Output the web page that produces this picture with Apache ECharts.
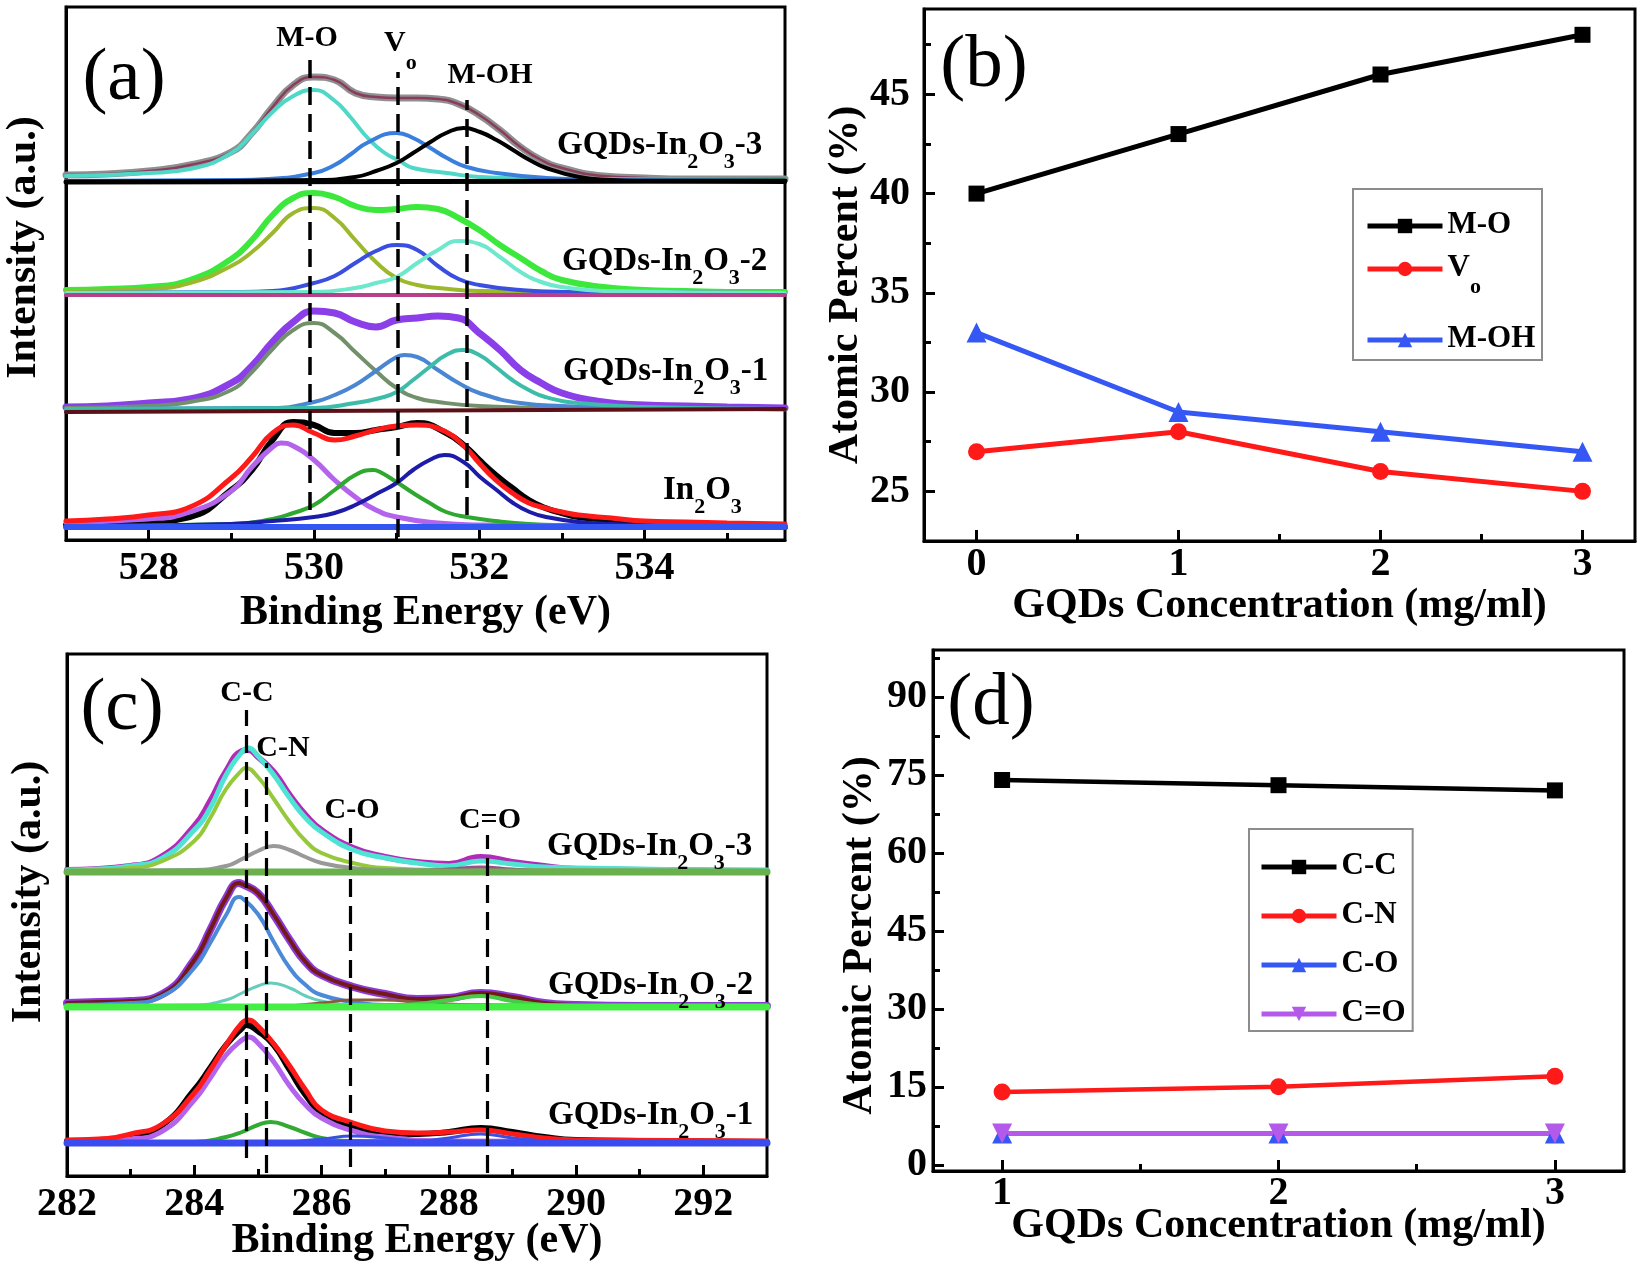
<!DOCTYPE html>
<html><head><meta charset="utf-8">
<script src="https://cdn.jsdelivr.net/npm/echarts@6/dist/echarts.min.js"></script>
<style>html,body{margin:0;padding:0;background:#fff}#c{width:1641px;height:1264px}</style>
</head><body><div id="c"></div>
<script>
// ---------- Panel (a): O 1s spectra, intensity above each background (a.u.) ----------
const aTicks = [528, 530, 532, 534];
const aMinor = [529, 531, 533, 535];
const aOffsets = [358, 245, 129, 13]; // stack offsets: GQDs-In2O3-3, -2, -1, In2O3
const a3Raw = [[527,7],[527.5,8],[528,11],[528.5,17],[529,30],[529.25,49],[529.5,75],[529.75,97],[530,105],[530.25,102],[530.5,89],[530.75,85],[531,84],[531.25,84],[531.5,83],[531.75,78],[532,67],[532.25,52],[532.5,35],[532.75,22],[533,14],[533.5,6],[534,4],[534.5,3],[535,3],[535.7,3]];
const a3MO = [[527,6],[528,9],[528.5,13],[529,29],[529.25,48],[529.5,70],[529.75,86],[530,92],[530.24,82],[530.44,65],[530.64,45],[530.84,30],[531.04,21],[531.2,14],[531.61,9],[532.01,5],[533,3],[535.7,2]];
const a3Vo = [[527,1],[529,2],[529.45,3],[530,9],[530.25,17],[530.45,28],[530.64,39],[531,49],[531.2,44],[531.41,34],[531.61,24],[531.85,15],[532.21,9],[532.81,4],[533.5,2],[535.7,1]];
const a3MOH = [[527,0],[530,2],[530.5,5],[530.75,11],[531,19],[531.2,29],[531.41,40],[531.6,49],[531.81,54],[532.01,50],[532.21,42],[532.41,32],[532.61,22],[532.81,14],[533.21,5],[533.6,2],[534,1],[535.7,0]];
const a3Bg = [[527,0],[535.7,1]];

const a2Raw = [[527,5],[527.5,6],[528,8],[528.5,15],[529,36],[529.25,55],[529.5,80],[529.75,97],[530,102],[530.25,98],[530.5,89],[530.75,85],[531,86],[531.25,88],[531.5,86],[531.75,77],[532,65],[532.25,50],[532.5,37],[532.75,24],[533,15],[533.5,8],[534,5],[534.5,4],[535,3],[535.7,3]];
const a2MO = [[527,4],[528,6],[528.5,12],[529,29],[529.25,43],[529.5,62],[529.75,82],[530,87],[530.25,77],[530.5,55],[530.75,33],[531,17],[531.25,10],[531.5,7],[532,4],[535.7,2]];
const a2Vo = [[527,2],[529,3],[529.5,4],[530,12],[530.25,19],[530.5,32],[530.75,44],[531,50],[531.25,45],[531.5,29],[531.75,16],[532,10],[532.5,5],[533,3],[535.7,2]];
const a2MOH = [[527,2],[530,3],[530.5,7],[530.75,12],[531,18],[531.25,32],[531.5,45],[531.75,54],[532,51],[532.25,38],[532.5,23],[532.75,13],[533,8],[533.5,4],[535.7,2]];
const a2Bg = [[527,0],[535.7,0]];

const a1Raw = [[527,4],[527.5,5],[528,8],[528.5,12],[529,28],[529.25,45],[529.5,69],[529.75,89],[530,100],[530.25,98],[530.5,89],[530.75,84],[531,91],[531.25,93],[531.5,95],[531.75,93],[532,78],[532.25,61],[532.5,41],[532.75,28],[533,18],[533.5,9],[534,6],[534.5,5],[535,4],[535.7,3]];
const a1MO = [[527,3],[528,5],[528.5,9],[529,21],[529.25,39],[529.5,62],[529.75,81],[530,88],[530.25,78],[530.5,59],[530.75,40],[531,23],[531.25,13],[531.5,9],[532,5],[533,3],[535.7,2]];
const a1Vo = [[527,2],[529.5,3],[530,9],[530.25,16],[530.5,26],[530.75,40],[531,54],[531.1,56],[531.25,54],[531.5,41],[531.75,28],[532,18],[532.5,8],[533,5],[534,3],[535.7,2]];
const a1MOH = [[527,2],[530,3],[530.5,8],[530.8,13],[531,19],[531.2,31],[531.4,44],[531.6,56],[531.8,61],[532,56],[532.2,44],[532.4,31],[532.6,21],[532.8,14],[533.2,8],[534,4],[535.7,2]];
const a1Bg = [[527,-1],[535.7,2]];

const a0Raw = [[527,2],[527.5,3],[528,5],[528.5,10],[529,37],[529.25,57],[529.5,87],[529.75,105],[530,102],[530.25,94],[530.5,94],[530.75,97],[531,100],[531.25,104],[531.6,94],[531.84,80],[532,67],[532.2,52],[532.4,39],[532.6,27],[532.8,19],[533,14],[533.2,10],[533.6,7],[534,4],[534.5,2],[535,1],[535.7,0]];
const a0Env = [[527,6],[527.5,8],[528,12],[528.5,20],[529,49],[529.25,70],[529.5,94],[529.75,102],[530,94],[530.25,87],[530.5,91],[530.75,97],[531,101],[531.25,102],[531.6,95],[531.84,79],[532,64],[532.2,47],[532.4,34],[532.6,24],[532.8,19],[533,15],[533.2,12],[533.6,9],[534,6],[534.5,5],[535,4],[535.7,3]];
const a0MO = [[527,5],[528,8],[528.5,15],[529,36],[529.25,60],[529.5,80],[529.6,84],[529.75,81],[530,67],[530.25,47],[530.5,30],[530.75,17],[531,10],[531.5,4],[532,2],[535.7,0]];
const a0Vo = [[527,1],[529,3],[529.5,8],[529.75,14],[530,22],[530.25,37],[530.5,52],[530.72,57],[530.8,55],[531,45],[531.2,34],[531.4,24],[531.6,15],[531.85,10],[532.2,6],[532.6,3],[533,2],[535.7,0]];
const a0MOH = [[527,0],[529,3],[529.5,6],[530,10],[530.25,14],[530.5,22],[530.8,35],[531,44],[531.2,57],[531.4,67],[531.58,72],[531.81,65],[532.01,50],[532.21,37],[532.41,24],[532.61,15],[532.81,10],[533.21,5],[533.6,3],[534,2],[535.7,0]];
const a0Bg = [[527,0],[535.7,0]];

const aPeakE = [529.95, 531.02, 531.85];      // M-O, Vo, M-OH
const aPeakTop = [485, 468, 440];
const aPeakBottom = [30, 3, 25];

// ---------- Panel (b) ----------
const bConc = [0, 1, 2, 3];
const bMO = [40, 43, 46, 48];
const bVo = [27, 28, 26, 25];
const bMOH = [33, 29, 28, 27];
const bYTicks = [25, 30, 35, 40, 45];
const bYMinor = [27.5, 32.5, 37.5, 42.5, 47.5];
const bXMinor = [0.5, 1.5, 2.5];

// ---------- Panel (c): C 1s spectra ----------
const cTicks = [282, 284, 286, 288, 290, 292];
const cMinor = [283, 285, 287, 289, 291];
const cOffsets = [304, 169, 33];
const c3Raw = [[282,2],[283,6],[283.5,16],[284,46],[284.25,71],[284.5,101],[284.75,121],[284.85,122],[285,115],[285.25,100],[285.5,77],[285.75,57],[286,42],[286.5,24],[287,15],[287.5,10],[288,8],[288.5,15],[289,10],[289.5,6],[290,3],[291,2],[293,1]];
const c3Env = [[282,2],[282.5,3],[283,6],[283.5,14],[284,42],[284.25,64],[284.5,97],[284.75,120],[284.85,124],[285,116],[285.25,97],[285.5,74],[285.75,54],[286,40],[286.5,22],[287,14],[287.5,9],[288,6],[288.5,11],[289,8],[289.5,5],[290,4],[291,3],[292,2],[293,2]];
const c3CC = [[282,1],[283,4],[283.5,11],[284,31],[284.25,54],[284.5,83],[284.75,102],[284.8,104],[285,95],[285.25,73],[285.5,50],[285.75,31],[286,19],[286.5,9],[287,4],[288,2],[293,1]];
const c3CN = [[282,1],[284,2],[284.5,6],[284.75,13],[285,21],[285.25,26],[285.5,22],[285.75,15],[286,9],[286.5,4],[287,2],[293,1]];
const c3CdO = [[287,0],[287.5,1],[288,3],[288.5,5],[289,3],[289.5,1],[290,0]];
const c3Bg = [[282,0],[293,0]];

const c2Raw = [[282,4],[282.5,5],[283,6],[283.5,13],[284,47],[284.25,77],[284.5,109],[284.7,124],[284.75,123],[285,114],[285.25,92],[285.5,67],[285.75,45],[286,32],[286.5,20],[287,13],[287.5,8],[288,9],[288.5,14],[289,10],[289.5,4],[290,2],[291,1],[293,1]];
const c2CC = [[282,2],[283,4],[283.5,11],[284,39],[284.25,64],[284.5,92],[284.7,110],[284.75,109],[285,93],[285.25,65],[285.5,39],[285.75,22],[286,12],[286.5,5],[287,2],[293,1]];
const c2CN = [[282,1],[284,2],[284.5,7],[284.75,14],[285,21],[285.2,24],[285.5,19],[285.75,11],[286,6],[286.5,2],[293,1]];
const c2CO = [[285.5,1],[286,4],[286.5,7],[287,7],[287.5,5],[288,3],[288.5,2],[289,1],[289.5,0]];
const c2CdO = [[287,1],[287.5,3],[288,7],[288.5,11],[289,6],[289.5,2],[290,1],[293,1]];
const c2Bg = [[282,0],[293,0]];

const c1Raw = [[282,2],[282.5,3],[283,6],[283.5,18],[284,53],[284.25,75],[284.5,98],[284.75,115],[284.82,118],[285,112],[285.25,98],[285.5,73],[285.75,48],[286,31],[286.5,17],[287,10],[287.5,9],[288,11],[288.5,15],[289,11],[289.5,6],[290,3],[291,2],[293,1]];
const c1Env = [[282,3],[282.5,4],[283,9],[283.5,19],[284,50],[284.25,73],[284.5,98],[284.75,120],[284.85,123],[285,117],[285.25,99],[285.5,77],[285.75,53],[286,33],[286.5,20],[287,12],[287.5,10],[288,11],[288.5,13],[289,9],[289.5,5],[290,3],[293,2]];
const c1CC = [[282,1],[283,4],[283.5,12],[284,43],[284.25,65],[284.5,88],[284.75,103],[284.85,106],[285,100],[285.25,81],[285.5,57],[285.75,38],[286,25],[286.5,12],[287,6],[288,2],[293,1]];
const c1CN = [[282,0],[284,1],[284.5,6],[284.75,11],[285,18],[285.2,21],[285.5,16],[285.75,10],[286,5],[286.5,2],[293,0]];
const c1CO = [[285.5,1],[286,4],[286.5,7],[287,5],[287.5,2],[288,1]];
const c1CdO = [[287.5,1],[288,5],[288.5,9],[289,5],[289.5,2],[290,0]];
const c1Bg = [[282,0],[293,0]];

const cPeakE = [284.81, 285.13, 286.45, 288.6];   // C-C, C-N, C-O, C=O
const cPeakTop = [466, 413, 348, 341];
const cPeakBottom = [18, 3, 9, 3];

// ---------- Panel (d) ----------
const dConc = [1, 2, 3];
const dCC = [74, 73, 72];
const dCN = [14, 15, 17];
const dCO = [6, 6, 6];
const dCdO = [6, 6, 6];
const dYTicks = [0, 15, 30, 45, 60, 75, 90];
const dYMinor = [7.5, 22.5, 37.5, 52.5, 67.5, 82.5, 97.5];
const dXMinor = [1.5, 2.5];

// ---------- styling / building ----------
const F = '"Liberation Serif","Times New Roman",serif';
const TB = {fontFamily: F, fontWeight: 'bold', color: '#000'};

function grid(left, top, width, height) {
  return {left, top, width, height, show: true, borderColor: '#000', borderWidth: 3,
    backgroundColor: 'transparent', containLabel: false, outerBoundsMode: 'none'};
}
function mainAxis(kind, gi, min, max, ticks, name, nameGap, margin, namePad) {
  return {type: 'value', gridIndex: gi, min, max, position: kind === 'x' ? 'bottom' : 'left', offset: 0,
    name: name || '', nameLocation: 'middle', nameGap: nameGap || 0, nameMoveOverlap: false,
    nameTextStyle: Object.assign({}, TB, {fontSize: 42, padding: namePad || 0}),
    axisLine: {show: true, onZero: false, lineStyle: {color: '#000', width: 3}},
    axisTick: ticks ? {show: true, inside: true, length: 11, lineStyle: {color: '#000', width: 3}, customValues: ticks} : {show: false},
    axisLabel: ticks ? Object.assign({show: true, fontSize: 40, margin: margin, customValues: ticks}, TB) : {show: false},
    splitLine: {show: false}, minorTick: {show: false}, silent: true};
}
function minorAxis(kind, gi, min, max, ticks) {
  return {type: 'value', gridIndex: gi, min, max, position: kind === 'x' ? 'bottom' : 'left', offset: 0,
    axisLine: {show: false, onZero: false},
    axisTick: {show: true, inside: true, length: 7, lineStyle: {color: '#000', width: 3}, customValues: ticks},
    axisLabel: {show: false}, splitLine: {show: false}, silent: true};
}

const xAxis = [
  mainAxis('x', 0, 527, 535.7, aTicks, 'Binding Energy (eV)', 52, 9),
  minorAxis('x', 0, 527, 535.7, aMinor),
  mainAxis('x', 1, -0.26, 3.26, bConc, 'GQDs Concentration (mg/ml)', 44, 4),
  minorAxis('x', 1, -0.26, 3.26, bXMinor),
  mainAxis('x', 2, 282, 293, cTicks, 'Binding Energy (eV)', 44, 9),
  minorAxis('x', 2, 282, 293, cMinor),
  mainAxis('x', 3, 0.75, 3.25, dConc, 'GQDs Concentration (mg/ml)', 34, 3),
  minorAxis('x', 3, 0.75, 3.25, dXMinor)
];
const yAxis = [
  mainAxis('y', 0, 0, 533, null, 'Intensity (a.u.)', 21, 0, [0, 0, 0, 52]),
  mainAxis('y', 1, 22.5, 49.3, bYTicks, 'Atomic Percent (%)', 57, 14, [0, 20, 0, 0]),
  minorAxis('y', 1, 22.5, 49.3, bYMinor),
  mainAxis('y', 2, 0, 522, null, 'Intensity (a.u.)', 17, 0, [0, 0, 0, 46]),
  mainAxis('y', 3, -1.2, 99, dYTicks, 'Atomic Percent (%)', 52, 6, [0, 50, 0, 0]),
  minorAxis('y', 3, -1.2, 99, dYMinor)
];

const series = [];
let uid = 0;
function curve(pts, off, color, width, xi, yi) {
  const s = {type: 'line', name: 'spec' + (uid++), xAxisIndex: xi, yAxisIndex: yi,
    data: pts.map(p => [p[0], p[1] + off]), showSymbol: false, symbol: 'none',
    smooth: 0.5, silent: true,
    lineStyle: {color, width, cap: 'round', join: 'round'}, itemStyle: {color}};
  series.push(s);
  return s;
}
// panel (a)
[
  [aOffsets[0], [[a3Raw,'#8f8f8f',7],[a3Raw,'#8b3c5c',2.5],[a3MO,'#4fd8c8',4],[a3Vo,'#3b7fdc',4],[a3MOH,'#000000',4],[a3Bg,'#000000',5]]],
  [aOffsets[1], [[a2Raw,'#3de83d',6],[a2MO,'#9cb82c',4],[a2Vo,'#3a4ee0',4],[a2MOH,'#6ee8cc',4],[a2Bg,'#b8408a',4]]],
  [aOffsets[2], [[a1Raw,'#8a3fe8',7],[a1MO,'#72906a',4],[a1Vo,'#4a86d2',4],[a1MOH,'#3ebcaa',4],[a1Bg,'#5c1018',4]]],
  [aOffsets[3], [[a0Raw,'#000000',6],[a0MO,'#b463ec',5],[a0Vo,'#2ea82e',4],[a0MOH,'#1c1ca8',4],[a0Env,'#ff1a1a',5],[a0Bg,'#3355f0',6]]]
].forEach(([off, list]) => list.forEach(c => curve(c[0], off, c[1], c[2], 0, 0)));
const aLast = series[series.length - 1];
aLast.markLine = {silent: true, symbol: ['none', 'none'], label: {show: false}, animation: false,
  lineStyle: {color: '#000', width: 3.5, type: [18, 9]},
  data: aPeakE.map((e, i) => [{coord: [e, aPeakBottom[i]]}, {coord: [e, aPeakTop[i]]}])};

// panel (c)
[
  [cOffsets[0], [[c3Raw,'#b22ab8',6],[c3Env,'#4fe3d3',5],[c3CC,'#96c83c',4],[c3CN,'#999999',4],[c3CdO,'#9c4f90',3],[c3Bg,'#6ab04c',7]]],
  [cOffsets[1], [[c2Raw,'#8c3ad8',8],[c2Raw,'#741818',4],[c2CC,'#4b8ad8',4],[c2CN,'#66ccbb',3],[c2CO,'#8b5a3c',3],[c2CdO,'#44cc44',4],[c2Bg,'#44ee44',7]]],
  [cOffsets[2], [[c1Raw,'#000000',6],[c1CC,'#b463ec',5],[c1Env,'#ff1a1a',5],[c1CN,'#33aa33',4],[c1CO,'#3a50e0',3],[c1CdO,'#3a50e0',3],[c1Bg,'#3a4cf0',7]]]
].forEach(([off, list]) => list.forEach(c => curve(c[0], off, c[1], c[2], 4, 3)));
const cLast = series[series.length - 1];
cLast.markLine = {silent: true, symbol: ['none', 'none'], label: {show: false}, animation: false,
  lineStyle: {color: '#000', width: 3.2, type: [18, 9]},
  data: cPeakE.map((e, i) => [{coord: [e, cPeakBottom[i]]}, {coord: [e, cPeakTop[i]]}])};

function pts(xs, ys) { return xs.map((x, i) => [x, ys[i]]); }
function sym(name, xs, ys, color, symbol, size, xi, yi, rot, lw) {
  series.push({type: 'line', name, xAxisIndex: xi, yAxisIndex: yi, data: pts(xs, ys),
    symbol, symbolSize: size, symbolRotate: rot || 0, showSymbol: true, silent: true,
    lineStyle: {color, width: lw || 5}, itemStyle: {color}});
}
sym('M-O', bConc, bMO, '#000000', 'rect', 16, 2, 1);
sym('Vo', bConc, bVo, '#ff1a1a', 'circle', 17, 2, 1);
sym('M-OH', bConc, bMOH, '#3558f5', 'triangle', 20, 2, 1);
sym('C-C', dConc, dCC, '#000000', 'rect', 16, 6, 4, 0, 4.5);
sym('C-N', dConc, dCN, '#ff1a1a', 'circle', 17, 6, 4, 0, 4.5);
sym('C-O', dConc, dCO, '#3558f5', 'triangle', 20, 6, 4, 0, 4.5);
sym('C=O', dConc, dCdO, '#b45aeb', 'triangle', 20, 6, 4, 180, 4.5);

const richN = (fs, lh) => ({fontFamily: F, fontWeight: 'bold', fontSize: fs, lineHeight: lh, verticalAlign: 'top', color: '#000'});
const richS = (pad) => ({fontFamily: F, fontWeight: 'bold', fontSize: 22, lineHeight: 22, padding: [pad, 0, 0, 0], verticalAlign: 'top', color: '#000'});
const legRich = {n: richN(31, 34), s: richS(24)};
const legFmt = name => name === 'Vo' ? '{n|V}{s|o}' : '{n|' + name + '}';
function leg(data, left, top, lw, extra) {
  return Object.assign({data, left, top, orient: 'vertical', itemWidth: 75, itemHeight: 18, padding: 0,
    selectedMode: false, formatter: legFmt, lineStyle: {width: lw},
    textStyle: {fontFamily: F, fontWeight: 'bold', fontSize: 31, color: '#000', rich: legRich}}, extra || {});
}
const legend = [
  leg(['M-O'], 1365, 209, 5),
  leg(['Vo'], 1365, 252, 5),
  leg(['M-OH'], 1365, 323, 5),
  leg(['C-C', 'C-N', 'C-O', 'C=O'], 1249, 829, 5, {itemGap: 18, padding: [21, 7, 3, 10], borderColor: '#8c8c8c', borderWidth: 2})
];

function txt(text, x, y, fs, rich, align, weight) {
  return {type: 'text', x, y, z: 100, silent: true,
    style: {text, x: 0, y: 0, fill: '#000', font: (weight || 'bold') + ' ' + fs + 'px ' + F,
      align: align || 'left', textAlign: align || 'left', verticalAlign: 'top', textVerticalAlign: 'top', rich}};
}
const specRich = {n: richN(33, 36), s: richS(22)};
const peakRich = {n: richN(30, 34), s: richS(24)};
const sampleLbl = sfx => '{n|GQDs-In}{s|2}{n|O}{s|3}{n|' + sfx + '}';
const elements = [
  txt('(a)', 124, 85 - 43, 75, null, 'center', 'normal'),
  txt('(b)', 984, 72 - 43, 75, null, 'center', 'normal'),
  txt('(c)', 122, 715 - 43, 75, null, 'center', 'normal'),
  txt('(d)', 991, 710 - 43, 75, null, 'center', 'normal'),
  txt('{n|M-O}', 307, 23, 30, peakRich, 'center'),
  txt('{n|V}{s|o}', 384, 28, 30, peakRich, 'left'),
  txt('{n|M-OH}', 490, 60, 30, peakRich, 'center'),
  txt('{n|C-C}', 247, 678, 30, peakRich, 'center'),
  txt('{n|C-N}', 283, 733, 30, peakRich, 'center'),
  txt('{n|C-O}', 352, 795, 30, peakRich, 'center'),
  txt('{n|C=O}', 490, 805, 30, peakRich, 'center'),
  txt(sampleLbl('-3'), 557, 129, 33, specRich),
  txt(sampleLbl('-2'), 562, 245, 33, specRich),
  txt(sampleLbl('-1'), 563, 355, 33, specRich),
  txt('{n|In}{s|2}{n|O}{s|3}', 663, 474, 33, specRich),
  txt(sampleLbl('-3'), 547, 830, 33, specRich),
  txt(sampleLbl('-2'), 548, 969, 33, specRich),
  txt(sampleLbl('-1'), 548, 1099, 33, specRich),
  {type: 'rect', z: 50, silent: true, shape: {x: 1353, y: 189, width: 189, height: 171},
    style: {fill: 'rgba(0,0,0,0)', stroke: '#8c8c8c', lineWidth: 2}}
];

const chart = echarts.init(document.getElementById('c'), null, {renderer: 'canvas', width: 1641, height: 1264});
chart.setOption({
  animation: false,
  backgroundColor: '#ffffff',
  textStyle: {fontFamily: F},
  grid: [grid(66, 7, 719, 533), grid(924, 9, 711, 532), grid(67, 654, 700, 522), grid(933, 650, 691, 521)],
  xAxis, yAxis, legend, series,
  graphic: {elements}
});
</script></body></html>
